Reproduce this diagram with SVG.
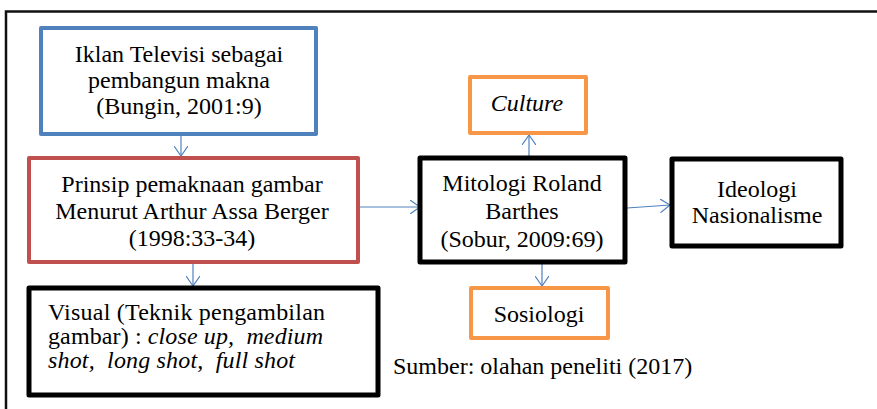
<svg xmlns="http://www.w3.org/2000/svg" width="877" height="409" viewBox="0 0 877 409">
<defs>
<marker id="ah" markerWidth="12" markerHeight="14" refX="10" refY="7" orient="auto" markerUnits="userSpaceOnUse">
<path d="M0,0 L10,7 L0,14" fill="none" stroke="#4F81BD" stroke-width="1.2"/>
</marker>
</defs>
<style>
.t{font-family:"Liberation Serif","Times New Roman",serif;font-size:24px;fill:#000}
.c{text-anchor:middle}
.i{font-style:italic}
.pre{white-space:pre}
.blue{fill:#fff;stroke:#4F81BD;stroke-width:4;stroke-linejoin:round}
.red{fill:#fff;stroke:#C0504D;stroke-width:4;stroke-linejoin:round}
.org{fill:#fff;stroke:#F79646;stroke-width:4;stroke-linejoin:round}
.blk{fill:#fff;stroke:#000;stroke-width:5;stroke-linejoin:round}
.con{fill:none;stroke:#4F81BD;stroke-width:1.2;marker-end:url(#ah)}
.frame{fill:none;stroke:#111;stroke-width:2.5}
</style>
<rect width="877" height="409" fill="#fff"/>
<path class="frame" d="M6,409 V11.5 H877"/>
<g id="connectors">
<line class="con" x1="181" y1="135" x2="181" y2="156"/>
<line class="con" x1="193" y1="264" x2="193" y2="286"/>
<line class="con" x1="360" y1="207" x2="420" y2="207"/>
<line class="con" x1="529" y1="156" x2="529" y2="135"/>
<line class="con" x1="542" y1="264" x2="542" y2="286"/>
<line class="con" x1="627" y1="208" x2="670" y2="205"/>
</g>
<g id="iklan">
<rect class="blue" x="41" y="28" width="275" height="106"/>
<text class="t c" x="179" y="62">Iklan Televisi sebagai</text>
<text class="t c" x="179" y="88">pembangun makna</text>
<text class="t c" x="179" y="114">(Bungin, 2001:9)</text>
</g>
<g id="prinsip">
<rect class="red" x="29" y="158" width="329" height="104"/>
<text class="t c" x="192" y="192">Prinsip pemaknaan gambar</text>
<text class="t c" x="192" y="219">Menurut Arthur Assa Berger</text>
<text class="t c" x="192" y="246">(1998:33-34)</text>
</g>
<g id="visual">
<rect class="blk" x="29" y="288" width="349" height="107"/>
<text class="t pre" x="48" y="320" textLength="277" lengthAdjust="spacing">Visual (Teknik pengambilan</text>
<text class="t pre" x="48" y="344" textLength="275" lengthAdjust="spacing">gambar) : <tspan class="i">close up,  medium</tspan></text>
<text class="t i pre" x="48" y="368" textLength="247" lengthAdjust="spacing">shot,  long shot,  full shot</text>
</g>
<g id="mitologi">
<rect class="blk" x="420" y="158" width="205" height="104"/>
<text class="t c" x="522" y="191">Mitologi Roland</text>
<text class="t c" x="522" y="219">Barthes</text>
<text class="t c" x="522" y="247">(Sobur, 2009:69)</text>
</g>
<g id="culture">
<rect class="org" x="470" y="77" width="116" height="56"/>
<text class="t c i" x="527" y="111">Culture</text>
</g>
<g id="sosiologi">
<rect class="org" x="471" y="288" width="137" height="50"/>
<text class="t c" x="539" y="322">Sosiologi</text>
</g>
<g id="ideologi">
<rect class="blk" x="672" y="159" width="169" height="87"/>
<text class="t c" x="757" y="197">Ideologi</text>
<text class="t c" x="757" y="223">Nasionalisme</text>
</g>
<text class="t" x="393" y="374">Sumber: olahan peneliti (2017)</text>
</svg>
